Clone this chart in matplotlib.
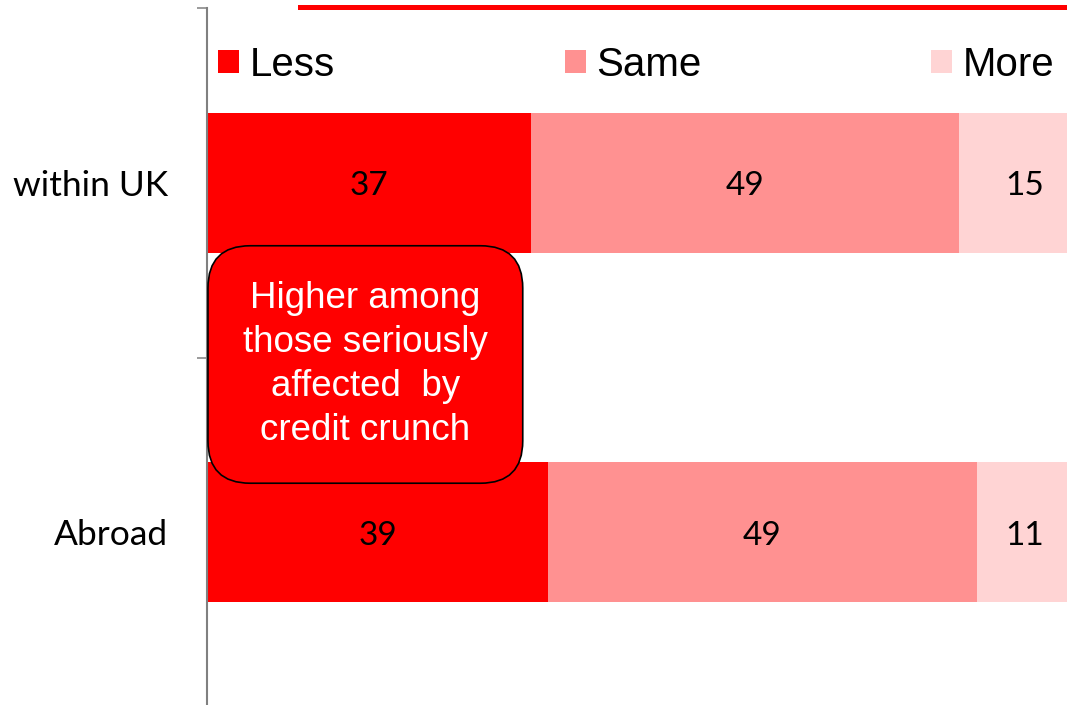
import matplotlib
matplotlib.use('Agg')
import matplotlib.pyplot as plt
from matplotlib.lines import Line2D

# data
categories = ['within UK', 'Abroad']
less = [37, 39]
same = [49, 49]
more = [15, 11]
series_names = ['Less', 'Same', 'More']
colors = ['#FF0000', '#FF9191', '#FFD4D4']
note = 'Higher among\nthose seriously\naffected  by\ncredit crunch'

fig = plt.figure(figsize=(10.67, 7.05), dpi=100)
# axes spans from the left spine to the right edge, bottom slightly cut off
ax = fig.add_axes([207 / 1067, -2 / 705, 860 / 1067, 699 / 705])

y = list(range(len(categories)))
lefts = [0] * len(categories)
for name, vals, c in zip(series_names, [less, same, more], colors):
    bars = ax.barh(y, vals, left=lefts, height=0.4, color=c, label=name)
    for yi, l, v in zip(y, lefts, vals):
        ax.text(l + v / 2, yi + 0.01, str(v), ha='center', va='center',
                fontsize=24, family='Lato', color='black', clip_on=True)
    lefts = [l + v for l, v in zip(lefts, vals)]

ax.set_xlim(0, 98.3)
ax.set_ylim(1.5, -0.5)

# spines / ticks
for s in ['top', 'right', 'bottom']:
    ax.spines[s].set_visible(False)
ax.spines['left'].set_color('#808080')
ax.spines['left'].set_linewidth(1.5)
ax.set_xticks([])
ax.set_yticks([-0.5, 0.5, 1.5])
ax.set_yticklabels([])
ax.tick_params(axis='y', which='major', length=7, width=1.1, color='#808080')
ax.set_yticks(y, minor=True)
ax.set_yticklabels(categories, minor=True, fontsize=25.5, family='Lato')
ax.tick_params(axis='y', which='minor', length=0, pad=28)

# legend
ax.legend(loc='center left', bbox_to_anchor=(218 / 1067, 1 - 65 / 705),
          bbox_transform=fig.transFigure, ncol=3, frameon=False,
          prop={'family': 'Liberation Sans', 'size': 29},
          handlelength=0.52, handleheight=0.52, handletextpad=0.27,
          columnspacing=5.7, borderpad=0, borderaxespad=0)

# call-out box
ax.text(18.1, 0.52, note, ha='center', va='center', multialignment='center',
        fontsize=26.5, family='Liberation Sans', color='white', linespacing=1.34,
        bbox=dict(boxstyle='round,pad=0.95,rounding_size=1.15',
                  fc='#FF0000', ec='black', lw=1.2))

# red rule of the (cut-off) title at the top
fig.add_artist(Line2D([300 / 1067, 1], [1 - 6.5 / 705] * 2,
                      transform=fig.transFigure, color='#FF0000', lw=3.6))

fig.savefig('out.png', dpi=100)
